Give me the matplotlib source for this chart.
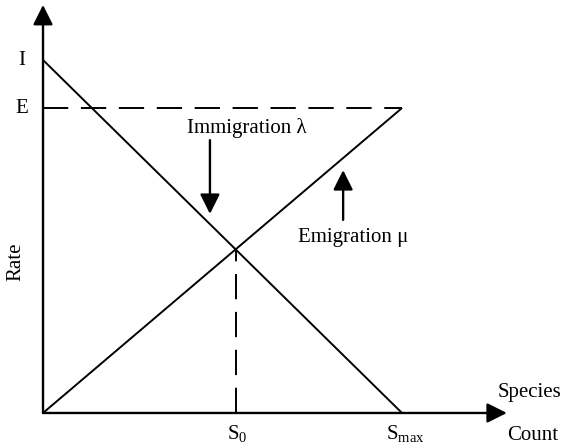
import numpy as np
import matplotlib
matplotlib.use('Agg')
import matplotlib.pyplot as plt

plt.rcParams['font.family'] = ['Liberation Serif', 'DejaVu Serif']
plt.rcParams['mathtext.fontset'] = 'custom'
plt.rcParams['mathtext.rm'] = 'Liberation Serif'
plt.rcParams['mathtext.it'] = 'Liberation Serif:italic'

# model values (arbitrary units)
I_max = 1.0      # maximum immigration rate
E_max = 0.864    # maximum emigration rate
S_max = 1.0      # maximum species count

imm_x = [0, S_max]
imm_y = [I_max, 0]
emi_x = [0, S_max]
emi_y = [0, E_max]

# equilibrium where the two lines cross
S0 = I_max * S_max / (I_max + E_max)
rate0 = E_max * S0 / S_max

fig = plt.figure(figsize=(5.66, 4.45), dpi=100)
ax = fig.add_axes([0, 0, 1, 1])
ax.set_xlim(-0.1198, 1.4568)
ax.set_ylim(-0.0907, 1.170)
ax.axis('off')

lw = 1.4
fs = 15
arrow = dict(arrowstyle='-|>', mutation_scale=30, lw=1.7,
             color='black', shrinkA=0, shrinkB=0)

# axes with arrow heads
ax.annotate('', xy=(0, 1.156), xytext=(0, 0), arrowprops=arrow)
ax.annotate('', xy=(1.292, 0), xytext=(0, 0), arrowprops=arrow)

# rate lines
ax.plot(imm_x, imm_y, color='black', lw=lw, solid_capstyle='butt')
ax.plot(emi_x, emi_y, color='black', lw=lw, solid_capstyle='butt')

# dashed guides
dash = (0, (13, 6.5))
ax.plot([0, S_max], [E_max, E_max], color='black', lw=lw, linestyle=dash)
ax.plot([S0, S0], [0, rate0], color='black', lw=lw, linestyle=dash)

# axis labels and marks
ax.text(-0.0585, I_max, 'I', fontsize=fs, ha='center', va='center')
ax.text(-0.0585, E_max, 'E', fontsize=fs, ha='center', va='center')
ax.text(-0.075, 0.428, 'Rate', fontsize=fs, ha='center', va='center', rotation=90)
ax.text(S0 + 0.005, -0.058, r'$\mathrm{S_0}$', fontsize=fs, ha='center', va='center')
ax.text(S_max + 0.01, -0.058, r'$\mathrm{S_{max}}$', fontsize=fs, ha='center', va='center')
ax.text(1.354, 0.0567, 'Species', fontsize=fs, ha='center', va='center')
ax.text(1.365, -0.064, 'Count', fontsize=fs, ha='center', va='center')

# curve labels with pointers
ax.text(0.568, 0.807, 'Immigration λ', fontsize=fs, ha='center', va='center')
ax.annotate('', xy=(0.465, 0.564), xytext=(0.465, 0.773), arrowprops=arrow)
ax.text(0.864, 0.496, 'Emigration μ', fontsize=fs, ha='center', va='center')
ax.annotate('', xy=(0.836, 0.688), xytext=(0.836, 0.547), arrowprops=arrow)

fig.savefig('out.png', dpi=100)
